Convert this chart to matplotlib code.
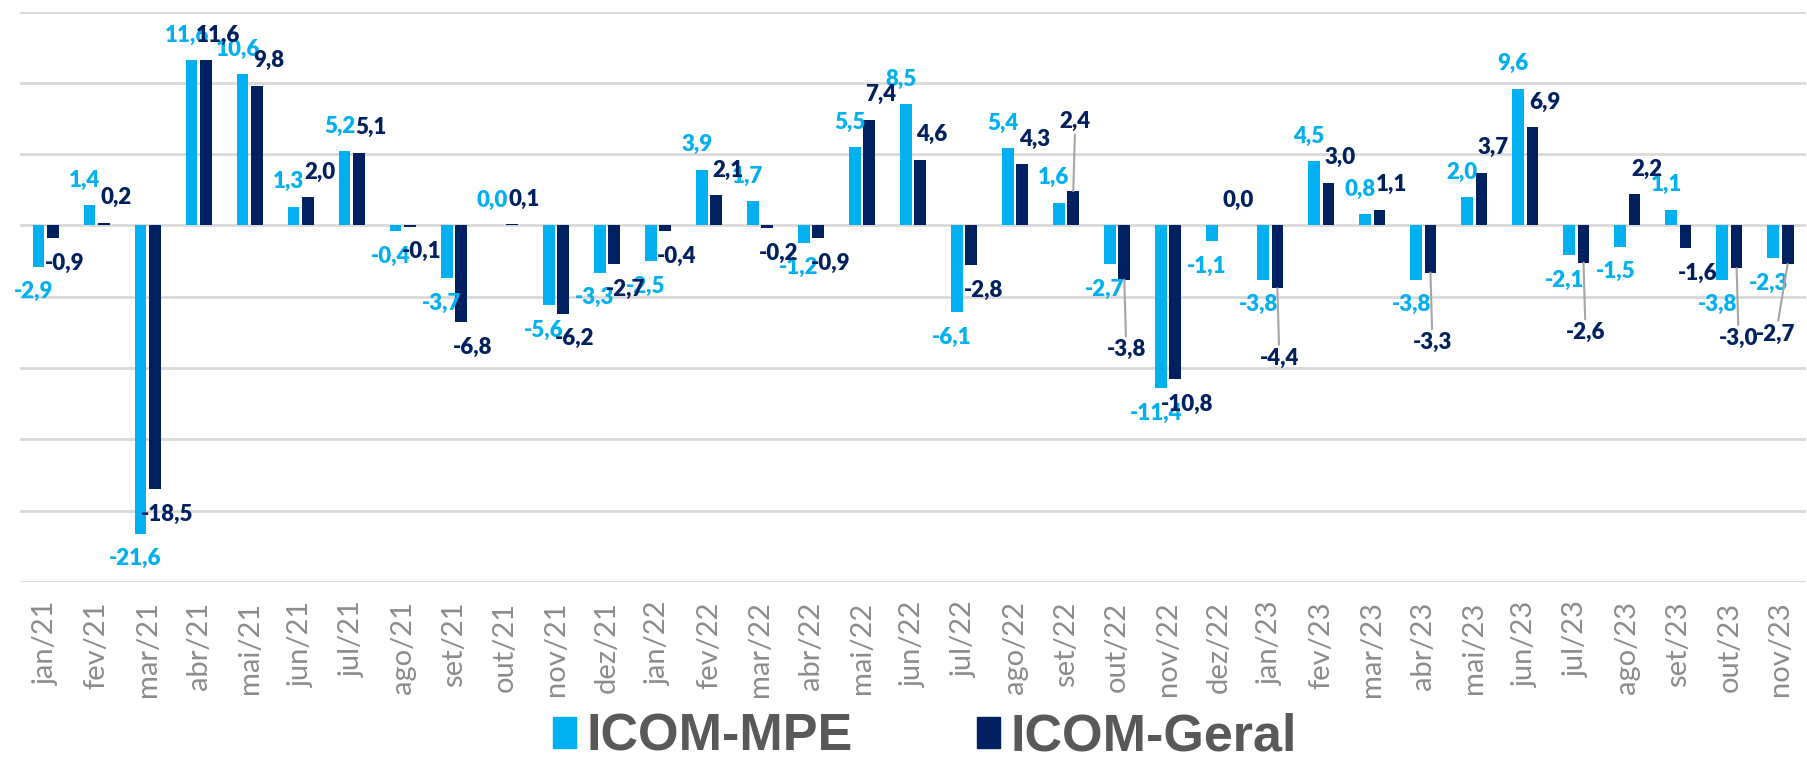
import matplotlib.pyplot as plt
import numpy as np
from matplotlib.patches import Patch

meses = [
    "jan/21", "fev/21", "mar/21", "abr/21", "mai/21", "jun/21", "jul/21",
    "ago/21", "set/21", "out/21", "nov/21", "dez/21",
    "jan/22", "fev/22", "mar/22", "abr/22", "mai/22", "jun/22", "jul/22",
    "ago/22", "set/22", "out/22", "nov/22", "dez/22",
    "jan/23", "fev/23", "mar/23", "abr/23", "mai/23", "jun/23", "jul/23",
    "ago/23", "set/23", "out/23", "nov/23",
]
icom_mpe = [
    -2.9, 1.4, -21.6, 11.6, 10.6, 1.3, 5.2, -0.4, -3.7, 0.0, -5.6, -3.3,
    -2.5, 3.9, 1.7, -1.2, 5.5, 8.5, -6.1, 5.4, 1.6, -2.7, -11.4, -1.1,
    -3.8, 4.5, 0.8, -3.8, 2.0, 9.6, -2.1, -1.5, 1.1, -3.8, -2.3,
]
icom_geral = [
    -0.9, 0.2, -18.5, 11.6, 9.8, 2.0, 5.1, -0.1, -6.8, 0.1, -6.2, -2.7,
    -0.4, 2.1, -0.2, -0.9, 7.4, 4.6, -2.8, 4.3, 2.4, -3.8, -10.8, 0.0,
    -4.4, 3.0, 1.1, -3.3, 3.7, 6.9, -2.6, 2.2, -1.6, -3.0, -2.7,
]
# meses em que o rotulo do ICOM-Geral foi afastado, com linha guia
com_guia = ["set/22", "out/22", "jan/23", "abr/23", "jul/23", "out/23", "nov/23"]

cor_mpe = "#00B0F0"
cor_geral = "#002060"


def rotulo(v):
    return f"{v:.1f}".replace(".", ",")


fig = plt.figure(figsize=(18.08, 7.62), dpi=100)
ax = fig.add_axes([0.0111, 0.2362, 0.9878, 0.7487])

x = np.arange(len(meses))
largura = 0.23
desloc = 0.14

ax.bar(x - desloc, icom_mpe, largura, color=cor_mpe, zorder=3)
ax.bar(x + desloc, icom_geral, largura, color=cor_geral, zorder=3)

ax.set_xlim(-0.5, len(meses) - 0.5)
ax.set_ylim(-25, 15)
ax.set_yticks(np.arange(-25, 16, 5))
ax.yaxis.grid(True, color="#D9D9D9", linewidth=2, zorder=0)
ax.tick_params(axis="y", left=False, labelleft=False)
for s in ax.spines.values():
    s.set_visible(False)

ax.set_xticks(x)
ax.set_xticklabels(meses, rotation=90, fontsize=21, color="#8C8C8C",
                   fontfamily="Lato", fontweight="normal")
ax.tick_params(axis="x", length=0, pad=14)

# rotulos de dados (MPE um pouco a esquerda, Geral a direita)
ultimo = len(meses) - 1
for serie, cor, dx, px in [(icom_mpe, cor_mpe, -desloc, -5),
                           (icom_geral, cor_geral, desloc, 12)]:
    for i, (xi, v) in enumerate(zip(x + dx, serie)):
        sinal = 1 if v >= 0 else -1
        dy = 25 * sinal
        ha = "center"
        off = px
        seta = None
        if dx > 0 and meses[i] in com_guia:
            dy = 70 * sinal
            off = 2
            seta = dict(arrowstyle="-", color="#A6A6A6", lw=1.5,
                        shrinkA=0, shrinkB=0)
        if i == ultimo and dx > 0:
            # nao deixar o rotulo sair da figura
            ha, off = "right", 8
        ax.annotate(rotulo(v), (xi, v), xytext=(off, dy), textcoords="offset pixels",
                    ha=ha, va="center", color=cor, fontsize=16,
                    fontweight="heavy", fontfamily="Lato", zorder=4,
                    arrowprops=seta)

handles = [Patch(color=cor_mpe), Patch(color=cor_geral)]
fig.legend(handles, ["ICOM-MPE", "ICOM-Geral"], loc="lower center",
           bbox_to_anchor=(0.5116, -0.034), ncol=2, frameon=False,
           prop={"family": "Liberation Sans", "weight": "bold", "size": 37.5},
           labelcolor="#595959", handlelength=0.44, handleheight=0.52,
           handletextpad=0.2, columnspacing=2.4, borderpad=0)

fig.savefig("out.png", dpi=100)
